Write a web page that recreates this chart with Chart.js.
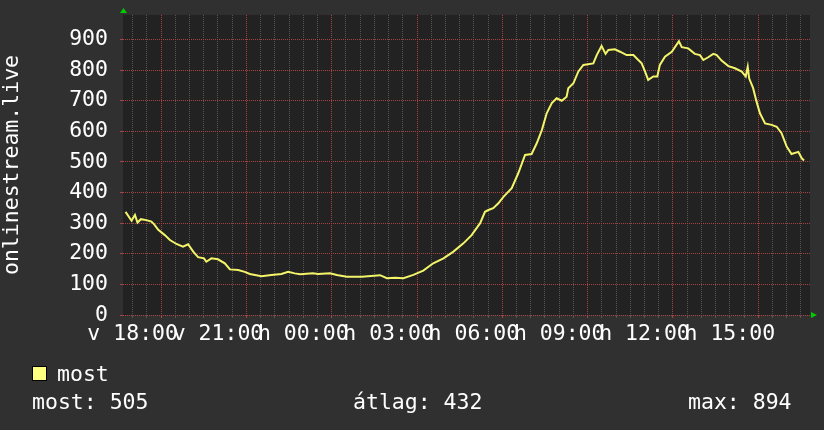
<!DOCTYPE html>
<html>
<head>
<meta charset="utf-8">
<script src="https://cdn.jsdelivr.net/npm/chart.js@4.4.1/dist/chart.umd.min.js"></script>
<style>
  html, body { margin: 0; padding: 0; background: #303030; }
  #wrap { position: relative; width: 824px; height: 430px; overflow: hidden; }
  #chart { position: absolute; left: 0; top: 0; }
  .txt { position: absolute; color: #fff; font: 21.5px "DejaVu Sans Mono", monospace; line-height: 24px; white-space: pre; }
  #legend-box { position: absolute; left: 32px; top: 366px; width: 13px; height: 13px; background: #ffff80; border: 1px solid #000; }
</style>
</head>
<body>
<div id="wrap">
  <canvas id="chart" width="824" height="430"></canvas>
  <div id="legend-box"></div>
  <div class="txt" id="legend-label" style="left:57px; top:362px;"></div>
  <div class="txt" id="stat-now" style="left:32px; top:390px;"></div>
  <div class="txt" id="stat-avg" style="left:353px; top:390px;"></div>
  <div class="txt" id="stat-max" style="left:688px; top:390px;"></div>
</div>
<script>
// time in hours (24+ = next day), viewers
const hours = [17.75, 17.96, 18.08, 18.17, 18.29, 18.48, 18.66, 18.75, 18.9, 19.13,
  19.31, 19.54, 19.77, 19.95, 20.13, 20.3, 20.51, 20.59, 20.77, 21.0,
  21.24, 21.42, 21.71, 21.94, 22.12, 22.53, 22.88, 23.23, 23.47, 23.7,
  23.89, 24.34, 24.52, 24.94, 25.18, 25.53, 26.06, 26.7, 26.94, 27.23,
  27.52, 27.87, 28.22, 28.57, 28.93, 29.28, 29.63, 29.92, 30.22, 30.39,
  30.51, 30.68, 30.86, 31.04, 31.33, 31.56, 31.8, 32.03, 32.21, 32.39,
  32.56, 32.74, 32.91, 33.09, 33.26, 33.32, 33.5, 33.67, 33.85, 34.2,
  34.32, 34.49, 34.63, 34.73, 34.96, 35.14, 35.37, 35.61, 35.72, 35.9,
  36.02, 36.13, 36.31, 36.45, 36.54, 36.72, 36.96, 37.07, 37.21, 37.31,
  37.54, 37.77, 37.95, 38.07, 38.24, 38.42, 38.54, 38.71, 38.95, 39.18,
  39.42, 39.56, 39.63, 39.68, 39.82, 39.94, 40.06, 40.24, 40.47, 40.65,
  40.82, 41.0, 41.17, 41.41, 41.53, 41.61];
const viewers = [337, 308, 327, 302, 313, 310, 305, 297, 278, 261,
  245, 232, 223, 231, 207, 189, 185, 174, 185, 182,
  169, 149, 147, 141, 134, 127, 131, 134, 141, 136,
  133, 136, 134, 136, 131, 125, 125, 130, 120, 122,
  120, 131, 145, 169, 185, 207, 234, 261, 300, 337,
  343, 349, 365, 386, 414, 463, 523, 526, 561, 604,
  659, 692, 708, 700, 713, 741, 757, 795, 817, 822,
  849, 879, 853, 866, 868, 860, 849, 849, 839, 822,
  795, 768, 779, 779, 817, 844, 860, 875, 894, 875,
  871, 853, 849, 833, 842, 853, 849, 831, 813, 806,
  795, 779, 811, 773, 741, 697, 659, 626, 621, 615,
  594, 550, 526, 533, 512, 505];

const xTickHours = [18, 21, 24, 27, 30, 33, 36, 39];
const xTickLabels = ['v 18:00', 'v 21:00', 'h 00:00', 'h 03:00', 'h 06:00', 'h 09:00', 'h 12:00', 'h 15:00'];
const yTickValues = [0, 100, 200, 300, 400, 500, 600, 700, 800, 900];

const seriesName = 'most';
const statNow = 505;
const statAvg = 432;
const statMax = 894;

const X_MIN = 17.66, X_MAX = 41.82;
const Y_MIN = 0, Y_MAX = 980;

const MINOR = '#555555';
const MAJOR = '#a84444';
const TEXT = '#ffffff';
const font = { family: '"DejaVu Sans Mono", monospace', size: 21.5 };

document.getElementById('legend-label').textContent = seriesName;
document.getElementById('stat-now').textContent = 'most: ' + statNow;
document.getElementById('stat-avg').textContent = 'átlag: ' + statAvg;
document.getElementById('stat-max').textContent = 'max: ' + statMax;

function isMajorX(v) {
  return Math.abs((((v - 19) % 3) + 3) % 3) < 1e-6;
}

const backgrounds = {
  id: 'backgrounds',
  beforeDraw(chart) {
    const { ctx, chartArea: a } = chart;
    ctx.save();
    ctx.fillStyle = '#303030';
    ctx.fillRect(0, 0, chart.width, chart.height);
    ctx.fillStyle = '#222222';
    ctx.fillRect(a.left, a.top, a.right - a.left, a.bottom - a.top);
    ctx.restore();
  }
};

const arrows = {
  id: 'arrows',
  afterDraw(chart) {
    const { ctx, chartArea: a } = chart;
    ctx.save();
    ctx.fillStyle = '#00cc00';
    ctx.beginPath();
    ctx.moveTo(a.left - 3, a.top - 2);
    ctx.lineTo(a.left + 4, a.top - 2);
    ctx.lineTo(a.left + 0.5, a.top - 7);
    ctx.closePath();
    ctx.fill();
    ctx.beginPath();
    ctx.moveTo(a.right + 1, a.bottom - 3);
    ctx.lineTo(a.right + 1, a.bottom + 3);
    ctx.lineTo(a.right + 7, a.bottom);
    ctx.closePath();
    ctx.fill();
    ctx.restore();
  }
};

new Chart(document.getElementById('chart'), {
  type: 'line',
  data: {
    datasets: [{
      label: seriesName,
      data: hours.map((h, i) => ({ x: h, y: viewers[i] })),
      borderColor: '#f4f46a',
      borderWidth: 2,
      pointRadius: 0,
      tension: 0,
      fill: false
    }]
  },
  options: {
    responsive: false,
    animation: false,
    devicePixelRatio: 1,
    layout: { padding: { left: 0, right: 14, top: 15, bottom: 0 } },
    plugins: { legend: { display: false }, tooltip: { enabled: false } },
    scales: {
      x: {
        type: 'linear',
        min: X_MIN,
        max: X_MAX,
        afterBuildTicks: axis => {
          const t = [];
          for (let v = 18; v <= X_MAX; v += 0.5) t.push({ value: v });
          axis.ticks = t;
        },
        afterFit: axis => {
          axis.height = 115;
          axis.paddingLeft = 0;
          axis.paddingRight = 0;
        },
        grid: {
          color: c => isMajorX(c.tick.value) ? MAJOR : MINOR,
          tickColor: c => isMajorX(c.tick.value) ? MAJOR : MINOR,
          tickLength: 3
        },
        border: { display: false, dash: [1, 1] },
        ticks: {
          autoSkip: false,
          maxRotation: 0,
          minRotation: 0,
          color: TEXT,
          font: font,
          padding: 4,
          callback: v => {
            const i = xTickHours.findIndex(h => Math.abs(h - v) < 1e-6);
            return i >= 0 ? xTickLabels[i] : '';
          }
        }
      },
      y: {
        min: Y_MIN,
        max: Y_MAX,
        afterBuildTicks: axis => {
          const t = [];
          for (let v = Y_MIN; v <= Y_MAX; v += 20) t.push({ value: v });
          axis.ticks = t;
        },
        afterFit: axis => {
          axis.width = 123;
          axis.paddingTop = 0;
          axis.paddingBottom = 0;
        },
        grid: {
          color: c => c.tick.value % 100 === 0 ? MAJOR : MINOR,
          tickColor: c => c.tick.value % 100 === 0 ? MAJOR : MINOR,
          tickLength: 3
        },
        border: { display: false, dash: [1, 1] },
        ticks: {
          color: TEXT,
          font: font,
          padding: 12,
          callback: v => yTickValues.includes(v) ? String(v) : ''
        },
        title: {
          display: true,
          text: 'onlinestream.live',
          color: TEXT,
          font: font,
          padding: { top: 0, bottom: 0 }
        }
      }
    }
  },
  plugins: [backgrounds, arrows]
});
</script>
</body>
</html>
